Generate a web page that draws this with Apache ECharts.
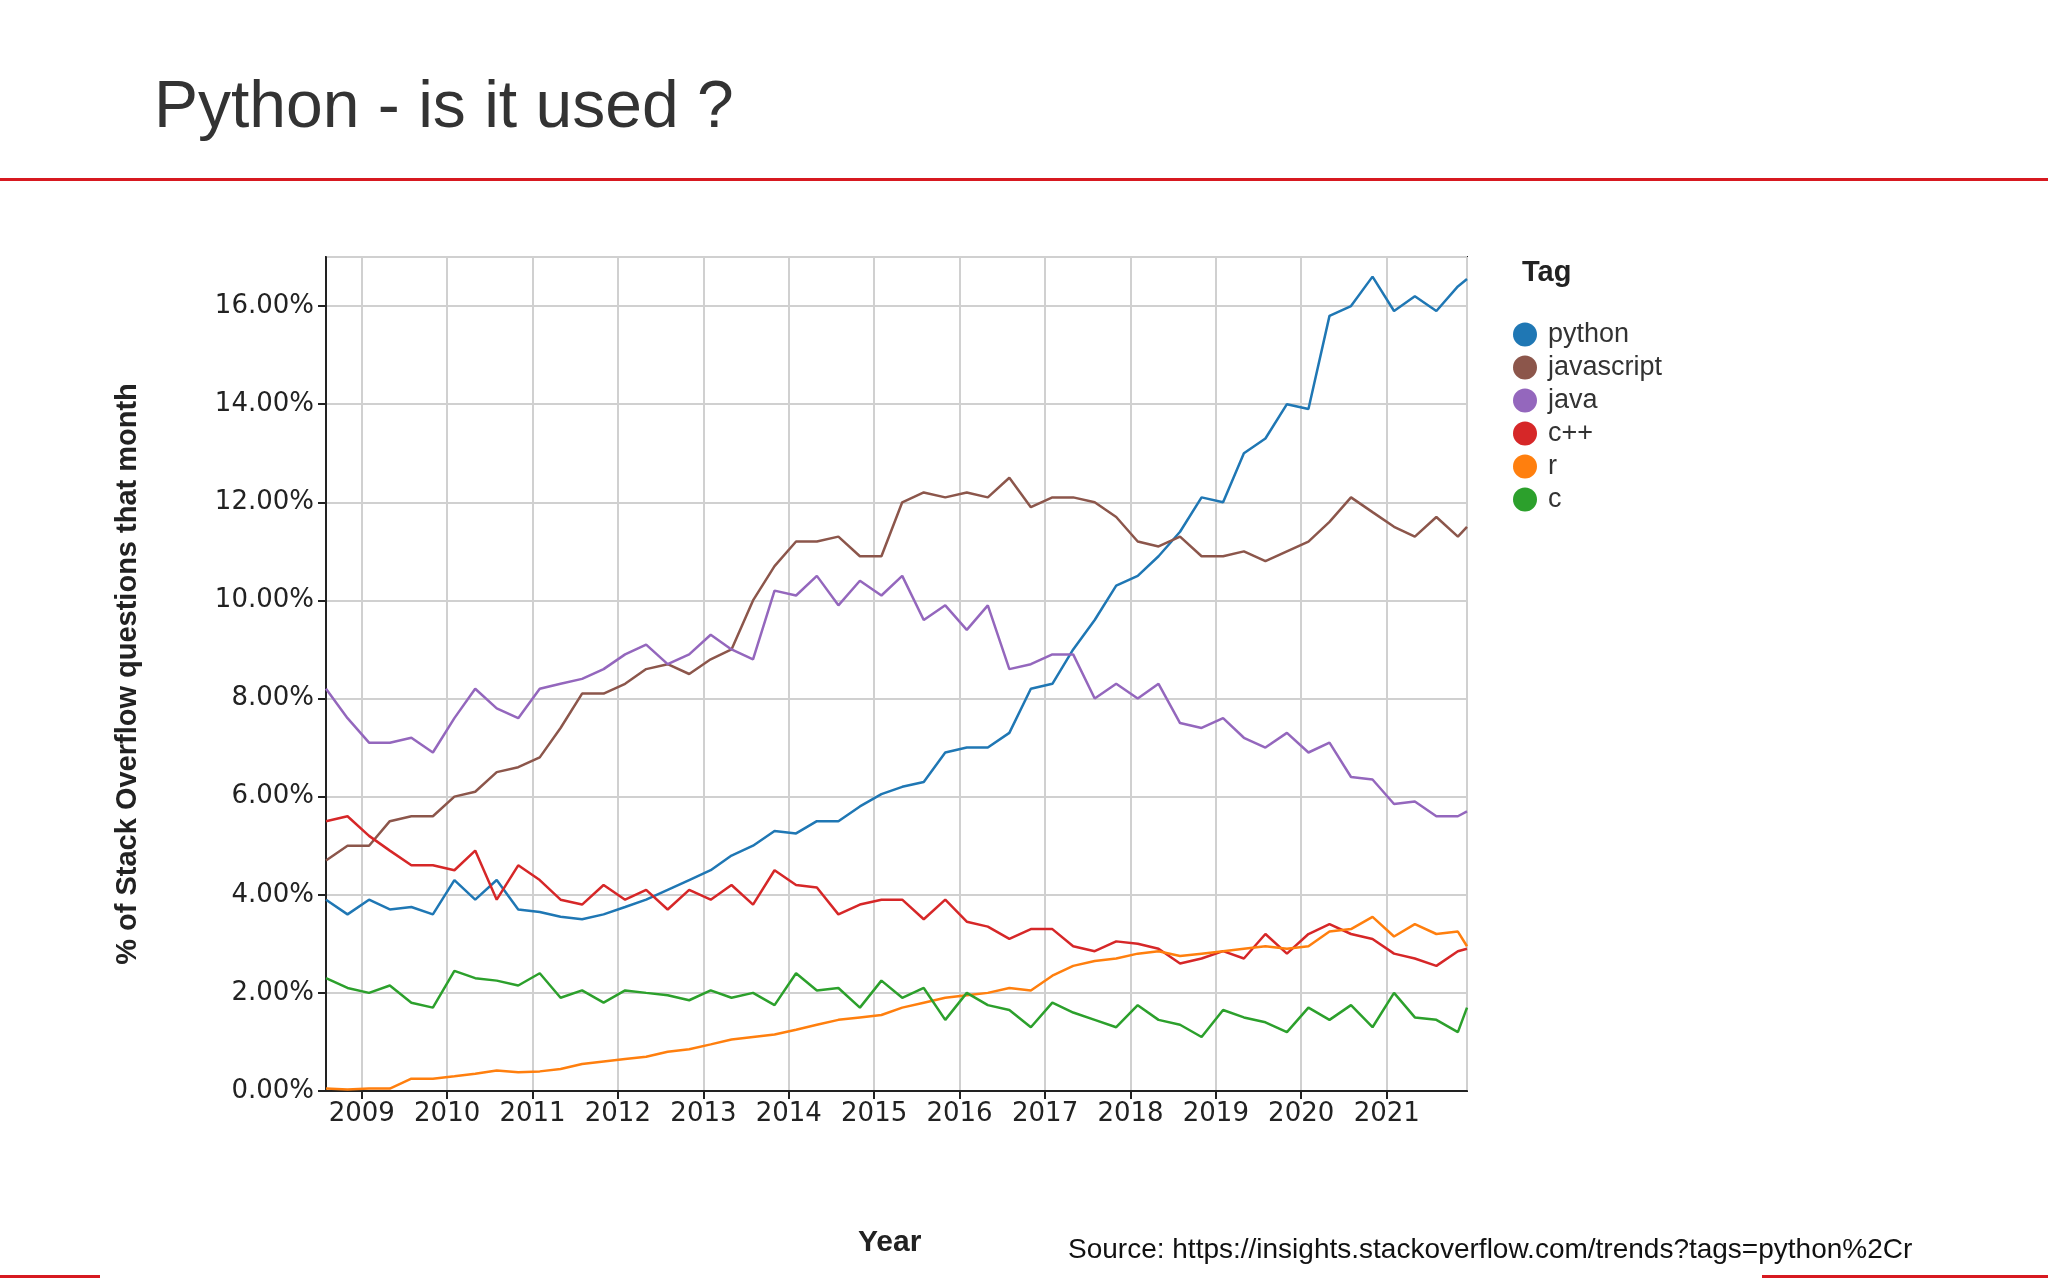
<!DOCTYPE html>
<html><head><meta charset="utf-8">
<script src="https://cdn.jsdelivr.net/npm/echarts@6/dist/echarts.min.js"></script>
<style>html,body{margin:0;padding:0;background:#fff}#c{width:2048px;height:1280px}</style>
</head><body><div id="c"></div>
<script>
const dates = ['2008-08-01','2008-11-01',
 '2009-02-01','2009-05-01','2009-08-01','2009-11-01',
 '2010-02-01','2010-05-01','2010-08-01','2010-11-01',
 '2011-02-01','2011-05-01','2011-08-01','2011-11-01',
 '2012-02-01','2012-05-01','2012-08-01','2012-11-01',
 '2013-02-01','2013-05-01','2013-08-01','2013-11-01',
 '2014-02-01','2014-05-01','2014-08-01','2014-11-01',
 '2015-02-01','2015-05-01','2015-08-01','2015-11-01',
 '2016-02-01','2016-05-01','2016-08-01','2016-11-01',
 '2017-02-01','2017-05-01','2017-08-01','2017-11-01',
 '2018-02-01','2018-05-01','2018-08-01','2018-11-01',
 '2019-02-01','2019-05-01','2019-08-01','2019-11-01',
 '2020-02-01','2020-05-01','2020-08-01','2020-11-01',
 '2021-02-01','2021-05-01','2021-08-01','2021-11-01','2021-12-10'];
const tags = ['python','javascript','java','c++','r','c'];
const colors = ['#1f77b4','#8c564b','#9467bd','#d62728','#ff7f0e','#2ca02c'];
const python = [3.9,3.6, 3.9,3.7,3.75,3.6, 4.3,3.9,4.3,3.7, 3.65,3.55,3.5,3.6, 3.75,3.9,4.1,4.3, 4.5,4.8,5.0,5.3, 5.25,5.5,5.5,5.8, 6.05,6.2,6.3,6.9, 7.0,7.0,7.3,8.2, 8.3,9.0,9.6,10.3, 10.5,10.9,11.4,12.1, 12.0,13.0,13.3,14.0, 13.9,15.8,16.0,16.6, 15.9,16.2,15.9,16.4, 16.55];
const javascript = [4.7,5.0, 5.0,5.5,5.6,5.6, 6.0,6.1,6.5,6.6, 6.8,7.4,8.1,8.1, 8.3,8.6,8.7,8.5, 8.8,9.0,10.0,10.7, 11.2,11.2,11.3,10.9, 10.9,12.0,12.2,12.1, 12.2,12.1,12.5,11.9, 12.1,12.1,12.0,11.7, 11.2,11.1,11.3,10.9, 10.9,11.0,10.8,11.0, 11.2,11.6,12.1,11.8, 11.5,11.3,11.7,11.3, 11.5];
const java = [8.2,7.6, 7.1,7.1,7.2,6.9, 7.6,8.2,7.8,7.6, 8.2,8.3,8.4,8.6, 8.9,9.1,8.7,8.9, 9.3,9.0,8.8,10.2, 10.1,10.5,9.9,10.4, 10.1,10.5,9.6,9.9, 9.4,9.9,8.6,8.7, 8.9,8.9,8.0,8.3, 8.0,8.3,7.5,7.4, 7.6,7.2,7.0,7.3, 6.9,7.1,6.4,6.35, 5.85,5.9,5.6,5.6, 5.7];
const cpp = [5.5,5.6, 5.2,4.9,4.6,4.6, 4.5,4.9,3.9,4.6, 4.3,3.9,3.8,4.2, 3.9,4.1,3.7,4.1, 3.9,4.2,3.8,4.5, 4.2,4.15,3.6,3.8, 3.9,3.9,3.5,3.9, 3.45,3.35,3.1,3.3, 3.3,2.95,2.85,3.05, 3.0,2.9,2.6,2.7, 2.85,2.7,3.2,2.8, 3.2,3.4,3.2,3.1, 2.8,2.7,2.55,2.85, 2.9];
const r = [0.05,0.03, 0.05,0.05,0.25,0.25, 0.3,0.35,0.42,0.38, 0.4,0.45,0.55,0.6, 0.65,0.7,0.8,0.85, 0.95,1.05,1.1,1.15, 1.25,1.35,1.45,1.5, 1.55,1.7,1.8,1.9, 1.95,2.0,2.1,2.05, 2.35,2.55,2.65,2.7, 2.8,2.85,2.75,2.8, 2.85,2.9,2.95,2.9, 2.95,3.25,3.3,3.55, 3.15,3.4,3.2,3.25, 2.95];
const c = [2.3,2.1, 2.0,2.15,1.8,1.7, 2.45,2.3,2.25,2.15, 2.4,1.9,2.05,1.8, 2.05,2.0,1.95,1.85, 2.05,1.9,2.0,1.75, 2.4,2.05,2.1,1.7, 2.25,1.9,2.1,1.45, 2.0,1.75,1.65,1.3, 1.8,1.6,1.45,1.3, 1.75,1.45,1.35,1.1, 1.65,1.5,1.4,1.2, 1.7,1.45,1.75,1.3, 2.0,1.5,1.45,1.2, 1.7];
const values = [python, javascript, java, cpp, r, c];

const F = 'Liberation Sans, Arial, sans-serif';
const D = 'DejaVu Sans, sans-serif';
const chart = echarts.init(document.getElementById('c'));
const YEAR = 365.25*86400000;
chart.setOption({
  animation:false,
  backgroundColor:'#fff',
  grid:{left:326,right:581,top:257,bottom:189,show:true,borderColor:'#222',borderWidth:2,backgroundColor:'transparent'},
  xAxis:{type:'time',min:'2008-08-01',max:'2021-12-10',minInterval:YEAR,maxInterval:YEAR,
    axisLine:{lineStyle:{color:'#222',width:2}},
    axisTick:{show:true,length:8,lineStyle:{color:'#222',width:2}},
    axisLabel:{formatter:'{yyyy}',color:'#222',fontSize:26,fontFamily:D,margin:10,showMinLabel:false,showMaxLabel:false},
    splitLine:{show:true,lineStyle:{color:'#d0d0d0',width:2}}},
  yAxis:{type:'value',min:0,max:17,interval:2,
    axisLine:{show:true,lineStyle:{color:'#222',width:2}},
    axisTick:{show:true,length:8,lineStyle:{color:'#222',width:2}},
    axisLabel:{formatter:v=>v.toFixed(2)+'%',color:'#222',fontSize:26,fontFamily:D,margin:12,showMaxLabel:false},
    splitLine:{show:true,lineStyle:{color:'#d0d0d0',width:2}}},
  legend:{orient:'vertical',left:1508,top:316,itemGap:6,icon:'circle',itemWidth:24,itemHeight:24,
    textStyle:{fontSize:27,fontFamily:F,color:'#333',padding:[0,0,0,6]},data:tags},
  series: tags.map((t,i)=>({name:t,type:'line',showSymbol:false,color:colors[i],
    lineStyle:{width:2.5},data:dates.map((d,j)=>[d,values[i][j]])})),
  graphic:[
    {type:'text',left:154,top:76,style:{text:'Python - is it used ?',font:'66px '+F,fill:'#333'}},
    {type:'rect',shape:{x:0,y:178,width:2048,height:3},style:{fill:'#d71920'}},
    {type:'rect',shape:{x:0,y:1275,width:100,height:3},style:{fill:'#d71920'}},
    {type:'rect',shape:{x:1762,y:1275,width:286,height:3},style:{fill:'#d71920'}},
    {type:'text',left:1522,top:258,style:{text:'Tag',font:'bold 29px '+F,fill:'#222'}},
    {type:'text',left:858,top:1228,style:{text:'Year',font:'bold 30px '+F,fill:'#222'}},
    {type:'text',left:1068,top:1236,style:{text:'Source: https://insights.stackoverflow.com/trends?tags=python%2Cr',font:'28px '+F,fill:'#111'}},
    {type:'text',x:128,y:674,rotation:Math.PI/2,style:{text:'% of Stack Overflow questions that month',font:'bold 29px '+F,fill:'#222',align:'center',verticalAlign:'middle'}}
  ]
});
</script></body></html>
